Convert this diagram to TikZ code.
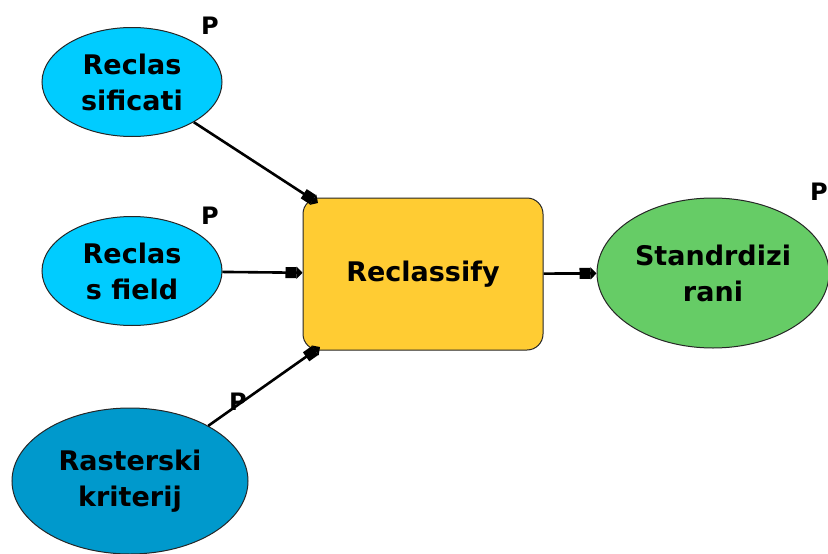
\documentclass[tikz,border=0pt]{standalone}
\usepackage{fontspec}
\setmainfont{DejaVu Sans}
\usetikzlibrary{shapes.geometric,arrows.meta}
\definecolor{lblue}{RGB}{0,204,255}
\definecolor{dblue}{RGB}{0,153,204}
\definecolor{yell}{RGB}{255,204,51}
\definecolor{grn}{RGB}{102,204,102}
\tikzset{
  base/.style={draw=black!85, line width=1pt, align=center, inner sep=0pt,
    font=\fontsize{27}{36}\selectfont\bfseries},
  data/.style={base, ellipse},
  tool/.style={base, rectangle, rounded corners=16pt},
  plabel/.style={font=\fontsize{24}{24}\selectfont\bfseries, inner sep=0pt},
  conn/.style={line width=2.6pt, -{Square[length=11pt,width=11pt,sep=0pt]Triangle[length=6pt,width=12pt,sep=0pt]}}
}
\begin{document}
\begin{tikzpicture}[x=1pt,y=-1pt]
\useasboundingbox (0,0) rectangle (828,554);
\node[data, fill=lblue, minimum width=180pt, minimum height=109pt] (r1) at (132,82) {Reclas\\sificati};
\node[data, fill=lblue, minimum width=180pt, minimum height=109pt] (r2) at (132,271) {Reclas\\s field};
\node[data, fill=dblue, minimum width=236pt, minimum height=146pt] (r3) at (130,481) {Rasterski\\kriterij};
\node[tool, fill=yell, minimum width=240pt, minimum height=152pt] (rc) at (423,274) {Reclassify};
\node[data, fill=grn, minimum width=232pt, minimum height=150pt] (out) at (713,273) {Standrdizi\\rani};
\node[plabel] (p1) at (210,26) {P};
\node[plabel] (p2) at (210,216) {P};
\node[plabel] (p3) at (238,402) {P};
\node[plabel] (p4) at (819,192) {P};
\coordinate (in1) at (318,203);
\coordinate (in3) at (320,347);
\draw[conn] (r1) -- (in1);
\draw[conn] (r2) -- (rc);
\draw[conn] (r3) -- (in3);
\draw[conn] (rc) -- (out);
\end{tikzpicture}
\end{document}
